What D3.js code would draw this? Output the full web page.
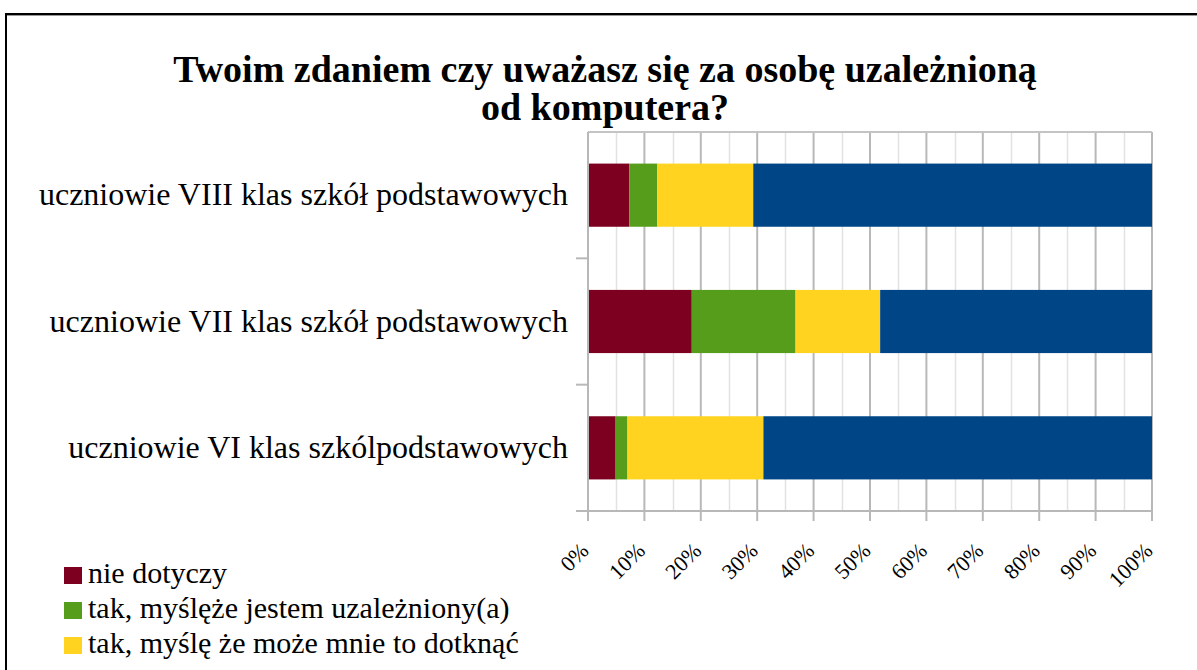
<!DOCTYPE html>
<html>
<head>
  <meta charset="utf-8">
  <script src="https://cdn.jsdelivr.net/npm/d3@7"></script>
  <style>
    html, body { margin: 0; padding: 0; background: #fff; }
    svg text { font-family: "Liberation Serif", "Times New Roman", "DejaVu Serif", serif; }
  </style>
</head>
<body>
<script>
  // categories (top to bottom)
  var categories = [
    "uczniowie VIII klas szkół podstawowych",
    "uczniowie VII klas szkół podstawowych",
    "uczniowie VI klas szkólpodstawowych"
  ];
  // series values, percent of answers per category
  var seriesNames = [
    "nie dotyczy",
    "tak, myśl\u0119że jestem uzależniony(a)",
    "tak, myślę że może mnie to dotknąć",
    "nie"
  ];
  var nieDotyczy     = [7.3, 18.4, 4.9];
  var takUzalezniony = [5.0, 18.4, 2.1];
  var takMoze        = [17.0, 15.0, 24.1];
  var nie            = [70.7, 48.2, 68.9];
  var seriesColors = ["#7e0021", "#579d1c", "#ffd320", "#004586"];
  var xTicks = [0, 10, 20, 30, 40, 50, 60, 70, 80, 90, 100];
  var titleLines = ["Twoim zdaniem czy uważasz się za osobę uzależnioną", "od komputera?"];

  var W = 1197, H = 670;
  var plot = { left: 588, right: 1152, top: 132, bottom: 511 };
  var serif = "'Liberation Serif', 'Times New Roman', 'DejaVu Serif', serif";

  var svg = d3.select("body").append("svg")
    .attr("width", W)
    .attr("height", H);

  // frame of the chart object
  svg.append("line").attr("x1", 5).attr("x2", W).attr("y1", 15.5).attr("y2", 15.5)
    .style("stroke", "#999").style("stroke-width", 1);
  svg.append("line").attr("x1", 5).attr("x2", W).attr("y1", 14).attr("y2", 14)
    .style("stroke", "#000").style("stroke-width", 2);
  svg.append("line").attr("x1", 6).attr("x2", 6).attr("y1", 13).attr("y2", H)
    .style("stroke", "#000").style("stroke-width", 2);

  // title
  svg.selectAll("text.title")
    .data(titleLines)
    .enter()
    .append("text")
      .attr("class", "title")
      .attr("x", 605)
      .attr("y", function (d, i) { return 82 + i * 38; })
      .attr("text-anchor", "middle")
      .attr("font-family", serif)
      .style("font-size", "38px")
      .style("font-weight", "bold")
      .text(function (d) { return d; });

  var table = categories.map(function (c, i) {
    return { cat: c, s0: nieDotyczy[i], s1: takUzalezniony[i], s2: takMoze[i], s3: nie[i] };
  });
  var keys = ["s0", "s1", "s2", "s3"];

  var x = d3.scaleLinear().domain([0, 100]).range([plot.left, plot.right]);
  var y = d3.scaleBand().domain(categories).range([plot.top, plot.bottom]).paddingInner(0.5).paddingOuter(0.25);
  var yBand = d3.scaleBand().domain(categories).range([plot.top, plot.bottom]);

  var g = svg.append("g");

  // minor gridlines (5%)
  var minor = d3.range(5, 100, 10);
  g.selectAll("line.minor")
    .data(minor)
    .enter()
    .append("line")
      .attr("x1", function (d) { return Math.round(x(d)) + 0.5; })
      .attr("x2", function (d) { return Math.round(x(d)) + 0.5; })
      .attr("y1", plot.top)
      .attr("y2", plot.bottom)
      .style("stroke", "#e2e2e2")
      .style("stroke-width", 1.5);

  // major gridlines
  g.selectAll("line.major")
    .data(xTicks)
    .enter()
    .append("line")
      .attr("x1", function (d) { return x(d); })
      .attr("x2", function (d) { return x(d); })
      .attr("y1", plot.top)
      .attr("y2", plot.bottom + 10)
      .style("stroke", "#b8b8b8")
      .style("stroke-width", 2);

  // top border of plot
  g.append("line").attr("x1", plot.left).attr("x2", plot.right).attr("y1", plot.top).attr("y2", plot.top)
    .style("stroke", "#c4c4c4").style("stroke-width", 2);

  // stacked bars
  var stack = d3.stack().keys(keys)(table);
  g.selectAll("g.series")
    .data(stack)
    .enter()
    .append("g")
      .attr("class", "series")
      .style("fill", function (d, i) { return seriesColors[i]; })
    .selectAll("rect")
    .data(function (d) { return d; })
    .enter()
    .append("rect")
      .attr("x", function (d) { return x(d[0]); })
      .attr("width", function (d) { return x(d[1]) - x(d[0]); })
      .attr("y", function (d) { return y(d.data.cat); })
      .attr("height", y.bandwidth());

  // axes lines
  g.append("line").attr("x1", plot.left - 12).attr("x2", plot.right).attr("y1", plot.bottom).attr("y2", plot.bottom)
    .style("stroke", "#b8b8b8").style("stroke-width", 2);
  g.append("line").attr("x1", plot.left).attr("x2", plot.left).attr("y1", plot.top).attr("y2", plot.bottom)
    .style("stroke", "#b8b8b8").style("stroke-width", 2);

  // category separator ticks on the y axis
  g.selectAll("line.ytick")
    .data(categories.slice(1))
    .enter()
    .append("line")
      .attr("x1", plot.left - 12)
      .attr("x2", plot.left)
      .attr("y1", function (d) { return yBand(d); })
      .attr("y2", function (d) { return yBand(d); })
      .style("stroke", "#b8b8b8")
      .style("stroke-width", 2);

  // category labels
  g.selectAll("text.cat")
    .data(categories)
    .enter()
    .append("text")
      .attr("x", plot.left - 20)
      .attr("y", function (d) { return y(d) + y.bandwidth() / 2 + 10; })
      .attr("text-anchor", "end")
      .attr("font-family", serif)
      .style("font-size", "32px")
      .style("fill", "#000")
      .text(function (d) { return d; });

  // x tick labels, rotated
  g.selectAll("text.xtick")
    .data(xTicks)
    .enter()
    .append("text")
      .attr("transform", function (d) { return "translate(" + (x(d) + 2) + ",552) rotate(-45)"; })
      .attr("text-anchor", "end")
      .attr("font-family", serif)
      .style("font-size", "22px")
      .style("fill", "#000")
      .text(function (d) { return d + "%"; });

  // legend: only the first three entries fit inside the frame
  var leg = svg.selectAll("g.legend")
    .data(seriesNames.slice(0, 3))
    .enter()
    .append("g")
      .attr("class", "legend")
      .attr("transform", function (d, i) { return "translate(64," + (583 + i * 35) + ")"; });
  leg.append("rect")
    .attr("x", 0)
    .attr("y", -16)
    .attr("width", 18)
    .attr("height", 17)
    .style("fill", function (d, i) { return seriesColors[i]; });
  leg.append("text")
    .attr("x", 24)
    .attr("y", 0)
    .attr("font-family", serif)
    .style("font-size", "30px")
    .style("fill", "#000")
    .text(function (d) { return d; });
</script>
</body>
</html>
